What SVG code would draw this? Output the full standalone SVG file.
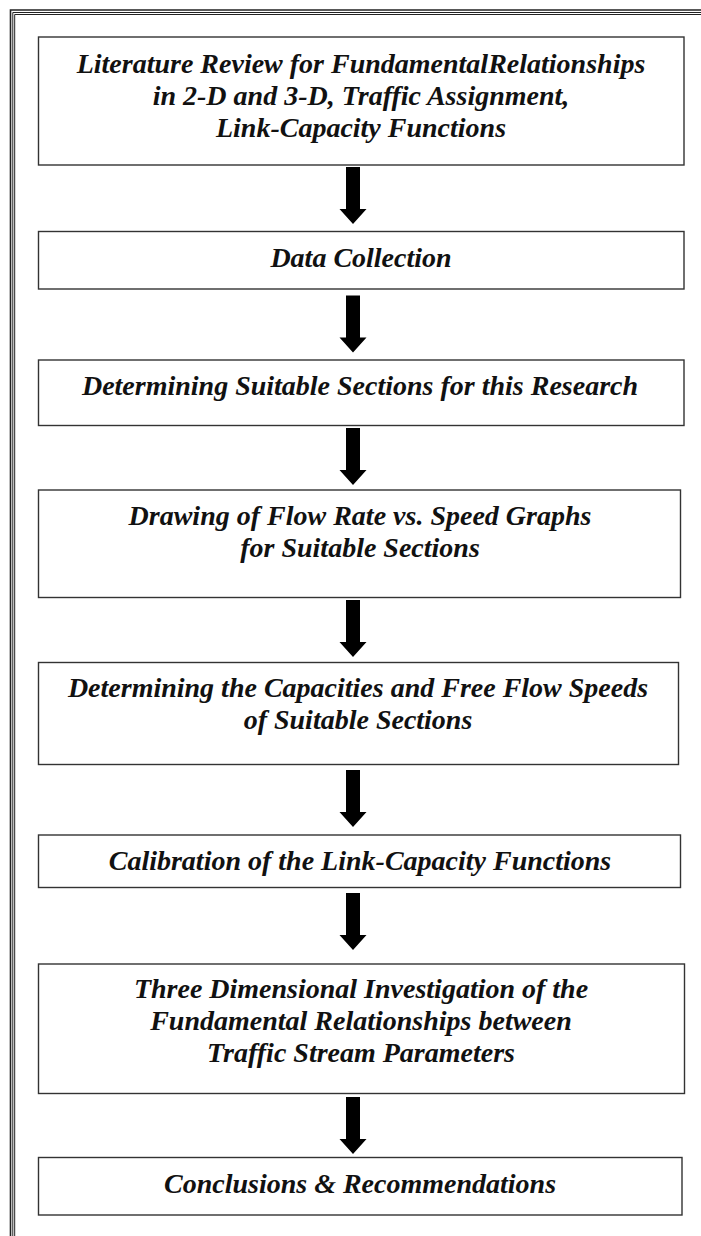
<svg xmlns="http://www.w3.org/2000/svg" width="701" height="1236" viewBox="0 0 701 1236">
<style>
.box{fill:#fff;stroke:#333;stroke-width:1.4}
.t{font-family:"Liberation Serif","Times New Roman",serif;font-weight:bold;font-style:italic;font-size:28px;fill:#111;text-anchor:middle}
.frame{fill:none;stroke:#222}
.arr{fill:#000}
</style>
<defs>
<path id="arrow" d="M-7,0 H7 V42 H13.5 L0,57 L-13.5,42 H-7 Z"/>
</defs>
<rect width="701" height="1236" fill="#fff"/>
<g id="frame">
<path class="frame" stroke-width="1.6" d="M10.5,1236 V10 H701"/>
<path class="frame" stroke-width="1" d="M12.8,1236 V12.5 H701"/>
<path class="frame" stroke-width="1" d="M14.7,1236 V14.5 H701"/>
</g>
<g id="n1"><rect class="box" x="38.5" y="37" width="645.5" height="128"/>
<text class="t" x="361" y="73">Literature Review for FundamentalRelationships</text>
<text class="t" x="361" y="105">in 2-D and 3-D, Traffic Assignment,</text>
<text class="t" x="361" y="137">Link-Capacity Functions</text></g>
<g id="n2"><rect class="box" x="38.5" y="231.5" width="645.5" height="57.5"/>
<text class="t" x="361" y="267">Data Collection</text></g>
<g id="n3"><rect class="box" x="38.5" y="360" width="645.5" height="65.5"/>
<text class="t" x="360" y="395">Determining Suitable Sections for this Research</text></g>
<g id="n4"><rect class="box" x="38.5" y="490" width="642" height="107.5"/>
<text class="t" x="360" y="525">Drawing of Flow Rate vs. Speed Graphs</text>
<text class="t" x="360" y="557">for Suitable Sections</text></g>
<g id="n5"><rect class="box" x="38.5" y="662.5" width="640" height="102"/>
<text class="t" x="358" y="697">Determining the Capacities and Free Flow Speeds</text>
<text class="t" x="358" y="729">of Suitable Sections</text></g>
<g id="n6"><rect class="box" x="38.5" y="835" width="642" height="52.5"/>
<text class="t" x="360" y="870">Calibration of the Link-Capacity Functions</text></g>
<g id="n7"><rect class="box" x="38.5" y="964" width="646" height="129.5"/>
<text class="t" x="361" y="998">Three Dimensional Investigation of the</text>
<text class="t" x="361" y="1030">Fundamental Relationships between</text>
<text class="t" x="361" y="1062">Traffic Stream Parameters</text></g>
<g id="n8"><rect class="box" x="38.5" y="1157.5" width="643.5" height="57.5"/>
<text class="t" x="360" y="1193">Conclusions &amp; Recommendations</text></g>
<g id="connectors" class="arr">
<use href="#arrow" x="353" y="167"/>
<use href="#arrow" x="353" y="295.5"/>
<use href="#arrow" x="353" y="428"/>
<use href="#arrow" x="353" y="600"/>
<use href="#arrow" x="353" y="770"/>
<use href="#arrow" x="353" y="893"/>
<use href="#arrow" x="353" y="1097"/>
</g>
</svg>
